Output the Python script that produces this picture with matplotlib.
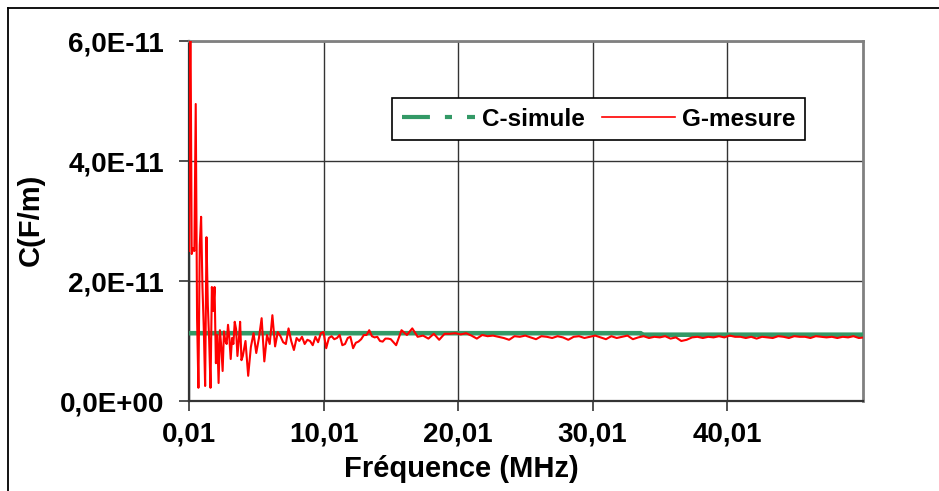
import numpy as np
import matplotlib
matplotlib.use('Agg')
import matplotlib.pyplot as plt
from matplotlib.lines import Line2D
from matplotlib.ticker import FixedLocator, FuncFormatter

plt.rcParams['font.family'] = ['Liberation Sans', 'DejaVu Sans']
plt.rcParams['font.weight'] = 'bold'

# measured capacitance, in units of 1e-11 F/m
# 0.01 -> 3.91 MHz, step 0.1 MHz
g_low = [2.5, 6.8, 2.45, 2.55, 2.5, 4.95, 1.38, 0.22, 2.6, 3.07,
         1.9, 1.2, 0.25, 2.73, 1.6, 1.0, 0.22, 1.9, 1.5, 1.9,
         0.63, 1.1, 0.3, 1.18, 0.9, 0.5, 1.16, 1.0, 0.95, 1.27,
         1.05, 0.7, 1.05, 0.95, 1.32, 1.2, 0.75, 1.0, 1.32, 0.68]
# 4.01 -> 14.81 MHz, step 0.2 MHz
g_mid = [0.75, 1.0, 0.42, 0.9, 1.13, 0.8, 1.05, 1.38, 0.66, 1.1,
         0.95, 1.43, 0.91, 1.15, 1.08, 0.98, 0.95, 1.21, 1.0, 0.85,
         1.05, 1.0, 1.07, 0.95, 1.02, 1.0, 0.93, 1.07, 0.98, 1.13,
         1.15, 0.88, 1.05, 1.08, 1.03, 1.05, 1.1, 0.93, 0.95, 1.05,
         1.07, 0.88, 0.97, 0.99, 1.03, 1.1, 1.1, 1.18, 1.08, 1.06,
         1.07, 1.0, 0.99, 1.04, 1.04]
# 15.01 -> 50.21 MHz, step 0.4 MHz
g_high = [1.03, 0.93, 1.18, 1.1, 1.21, 1.07, 1.09, 1.04, 1.12, 1.02,
          1.12, 1.12, 1.13, 1.11, 1.13, 1.09, 1.04, 1.1, 1.08, 1.09,
          1.07, 1.05, 1.02, 1.08, 1.07, 1.09, 1.06, 1.03, 1.08, 1.07,
          1.05, 1.08, 1.06, 1.02, 1.07, 1.08, 1.05, 1.07, 1.09, 1.06,
          1.03, 1.08, 1.05, 1.07, 1.09, 1.03, 1.06, 1.08, 1.05, 1.07,
          1.06, 1.08, 1.04, 1.06, 1.0, 1.02, 1.06, 1.07, 1.05, 1.07,
          1.06, 1.08, 1.06, 1.09, 1.07, 1.07, 1.05, 1.07, 1.04, 1.07,
          1.06, 1.05, 1.08, 1.07, 1.05, 1.08, 1.07, 1.07, 1.05, 1.08,
          1.07, 1.06, 1.07, 1.05, 1.07, 1.06, 1.08, 1.05, 1.06]

f_meas = np.concatenate([0.01 + 0.1 * np.arange(len(g_low)),
                         4.01 + 0.2 * np.arange(len(g_mid)),
                         15.01 + 0.4 * np.arange(len(g_high))])
g_meas = np.array(g_low + g_mid + g_high) * 1e-11

# simulated capacitance
f_sim = [0.01, 33.6, 33.7, 50.12]
c_sim = np.array([1.13, 1.13, 1.105, 1.105]) * 1e-11

xticks = [0.01, 10.01, 20.01, 30.01, 40.01]
xlabels = ['0,01', '10,01', '20,01', '30,01', '40,01']
yticks = [0, 2e-11, 4e-11, 6e-11]

green = '#339966'

fig = plt.figure(figsize=(9.39, 4.91), dpi=100)
ax = fig.add_axes([189/939, 1-401/491, 674/939, 360/491])

ax.plot(f_sim, c_sim, color=green, lw=3.3, zorder=3)
ax.plot(f_meas, g_meas, color='red', lw=1.5, zorder=4)

ax.set_xlim(0.01, 50.12)
ax.set_ylim(0, 6e-11)
ax.xaxis.set_major_locator(FixedLocator(xticks))
ax.set_xticklabels(xlabels)
ax.yaxis.set_major_locator(FixedLocator(yticks))
ax.yaxis.set_major_formatter(FuncFormatter(lambda v, p: f'{v:.1E}'.replace('.', ',')))

ax.tick_params(axis='both', direction='out', length=7, width=1.2, color='#333333',
               labelsize=20)
ax.tick_params(axis='y', pad=11)
ax.tick_params(axis='x', pad=8)

ax.grid(True, color='#333333', lw=1.0)
ax.set_axisbelow(True)

for side in ['top', 'right']:
    ax.spines[side].set_color('#808080')
    ax.spines[side].set_linewidth(2.0)
for side in ['left', 'bottom']:
    ax.spines[side].set_color('#333333')
    ax.spines[side].set_linewidth(1.6)

fig.text(31/939, 1-220/491, 'C(F/m)', rotation=90, ha='center', va='center',
         fontsize=21, fontweight='bold')
fig.text(461/939, 1-469/491, 'Fréquence (MHz)', ha='center', va='center',
         fontsize=21, fontweight='bold')

handles = [Line2D([], [], color=green, lw=3.0, linestyle=(0, (6.7, 3.6, 1.7, 3.6))),
           Line2D([], [], color='red', lw=1.2)]
leg = ax.legend(handles, ['C-simule', 'G-mesure'], ncol=2, loc='upper left',
                bbox_to_anchor=(0.301, 0.842), borderaxespad=0, fancybox=False,
                edgecolor='black', framealpha=1, fontsize=17.5, handlelength=3.0,
                handletextpad=0.3, columnspacing=0.7, borderpad=0.4)
leg.get_frame().set_linewidth(1.2)

# outer frame
fig.add_artist(Line2D([7.5/939, 7.5/939], [0, 1-7.5/491], transform=fig.transFigure,
                      color='black', lw=1.3))
fig.add_artist(Line2D([7.5/939, 1], [1-7.5/491, 1-7.5/491], transform=fig.transFigure,
                      color='black', lw=1.3))

fig.savefig('out.png', dpi=100)
